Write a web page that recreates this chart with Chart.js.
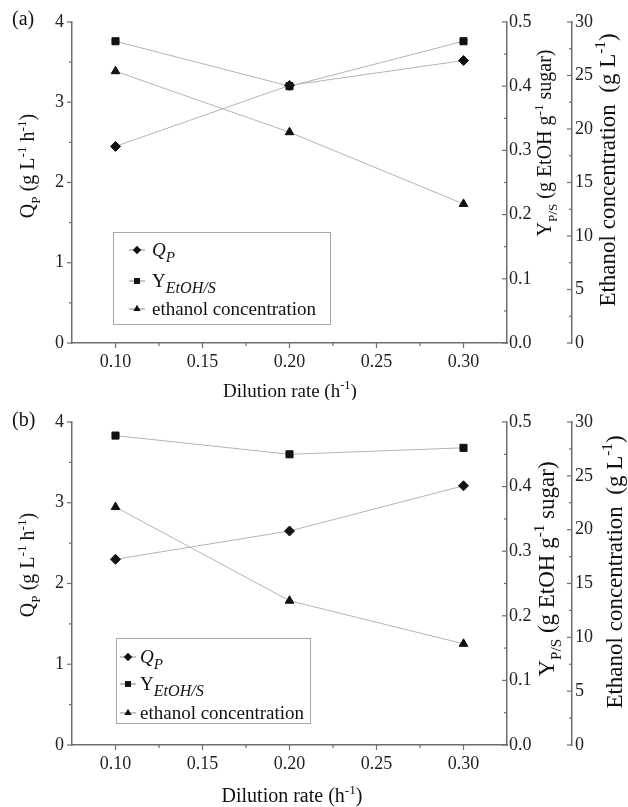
<!DOCTYPE html>
<html>
<head>
<meta charset="utf-8">
<script src="https://cdn.jsdelivr.net/npm/chart.js@4.4.0/dist/chart.umd.min.js"></script>
<style>
body { margin: 0; background: #fff; }
.panel { position: absolute; left: 0; width: 628px; }
</style>
</head>
<body>
<div class="panel" style="top:0;height:400px"><canvas id="chartA"></canvas></div>
<div class="panel" style="top:400px;height:407px"><canvas id="chartB"></canvas></div>
<script>
// values
var dilution = [0.10, 0.20, 0.30];
var qpA = [2.45, 3.21, 3.52];
var yieldA = [0.47, 0.40, 0.47];
var ethanolA = [25.4, 19.7, 13.0];
var qpB = [2.30, 2.65, 3.21];
var yieldB = [0.479, 0.450, 0.460];
var ethanolB = [22.1, 13.4, 9.4];

// tick values
var xTicks = [0.10, 0.15, 0.20, 0.25, 0.30];
var xMinor = [0.125, 0.175, 0.225, 0.275];
var qpTicks = [0, 1, 2, 3, 4];
var qpMinor = [0.5, 1.5, 2.5, 3.5];
var yieldTicks = [0, 0.1, 0.2, 0.3, 0.4, 0.5];
var yieldMinor = [0.05, 0.15, 0.25, 0.35, 0.45];
var ethTicks = [0, 5, 10, 15, 20, 25, 30];
var ethMinor = [2.5, 7.5, 12.5, 17.5, 22.5, 27.5];

// texts (i = italic, sub / sup = small shifted text, sc = size factor)
var seriesNames = [
  [{t: 'Q', i: 1}, {t: 'P', i: 1, sub: 1, sc: 0.8}],
  [{t: 'Y'}, {t: 'EtOH/S', i: 1, sub: 1, sc: 0.85}],
  [{t: 'ethanol concentration'}]
];
var xTitle = [{t: 'Dilution rate (h'}, {t: '-1', sup: 1}, {t: ')'}];
var qpTitle = [{t: 'Q'}, {t: 'P', sub: 1}, {t: ' (g L'}, {t: '-1', sup: 1}, {t: ' h'}, {t: '-1', sup: 1}, {t: ')'}];
var yieldTitle = [{t: 'Y'}, {t: 'P/S', sub: 1}, {t: ' (g EtOH g'}, {t: '-1', sup: 1}, {t: ' sugar)'}];
var ethTitle = [{t: 'Ethanol concentration  (g L'}, {t: '-1', sup: 1}, {t: ')'}];

var FONT = "'Liberation Serif', 'Times New Roman', serif";
var AXIS = '#6e6e6e';
var pointStyles = ['rectRot', 'rect', 'triangle'];

function segFont(s, size) {
  var sz = (s.sub || s.sup) ? size * (s.sc || 0.66) : size;
  return (s.i ? 'italic ' : '') + sz.toFixed(1) + 'px ' + FONT;
}
function richWidth(ctx, segs, size) {
  var w = 0;
  segs.forEach(function (s) { ctx.font = segFont(s, size); w += ctx.measureText(s.t).width; });
  return w;
}
function drawRich(ctx, segs, x, y, size, center) {
  var cx = center ? x - richWidth(ctx, segs, size) / 2 : x;
  ctx.textAlign = 'left';
  ctx.textBaseline = 'alphabetic';
  segs.forEach(function (s) {
    ctx.font = segFont(s, size);
    var dy = s.sub ? size * 0.3 : (s.sup ? -size * 0.42 : 0);
    ctx.fillText(s.t, cx, y + dy);
    cx += ctx.measureText(s.t).width;
  });
}
function drawRotated(ctx, segs, x, y, size) {
  ctx.save();
  ctx.translate(x, y);
  ctx.rotate(-Math.PI / 2);
  drawRich(ctx, segs, 0, 0, size, true);
  ctx.restore();
}
function drawMarker(ctx, style, x, y, r) {
  ctx.beginPath();
  if (style === 'rectRot') {
    ctx.moveTo(x, y - r); ctx.lineTo(x + r, y); ctx.lineTo(x, y + r); ctx.lineTo(x - r, y);
  } else if (style === 'rect') {
    var s = r * Math.SQRT1_2;
    ctx.rect(x - s, y - s, 2 * s, 2 * s);
  } else {
    var h = r * 1.5, half = r * Math.sqrt(3) / 2;
    ctx.moveTo(x - half, y + h / 3); ctx.lineTo(x + half, y + h / 3); ctx.lineTo(x, y - 2 * h / 3);
  }
  ctx.closePath();
  ctx.fill();
}
function tickMarks(ctx, scale, values, len) {
  values.forEach(function (v) {
    var p = scale.getPixelForValue(v);
    ctx.beginPath();
    if (scale.isHorizontal()) { ctx.moveTo(p, scale.top); ctx.lineTo(p, scale.top + len); }
    else if (scale.position === 'left') { ctx.moveTo(scale.right, p); ctx.lineTo(scale.right - len, p); }
    else { ctx.moveTo(scale.left, p); ctx.lineTo(scale.left - len, p); } // right axes tick inward
    ctx.stroke();
  });
}

var decor = {
  id: 'decor',
  afterDraw: function (chart, args, o) {
    var ctx = chart.ctx;
    ctx.save();
    ctx.strokeStyle = AXIS;
    ctx.lineWidth = 1.2;
    var sc = chart.scales;
    tickMarks(ctx, sc.x, xTicks, 5); tickMarks(ctx, sc.x, xMinor, 3);
    tickMarks(ctx, sc.y, qpTicks, 5); tickMarks(ctx, sc.y, qpMinor, 3);
    tickMarks(ctx, sc.y1, yieldTicks, 5); tickMarks(ctx, sc.y1, yieldMinor, 3);
    tickMarks(ctx, sc.y2, ethTicks, 5); tickMarks(ctx, sc.y2, ethMinor, 3);

    ctx.fillStyle = '#111';
    var t = o.titles;
    drawRich(ctx, [{t: o.label}], t.label[0], t.label[1], t.label[2], false);
    drawRich(ctx, xTitle, t.x[0], t.x[1], t.x[2], true);
    drawRotated(ctx, qpTitle, t.qp[0], t.qp[1], t.qp[2]);
    drawRotated(ctx, yieldTitle, t.yld[0], t.yld[1], t.yld[2]);
    drawRotated(ctx, ethTitle, t.eth[0], t.eth[1], t.eth[2]);

    // legend box
    var L = o.legend;
    ctx.strokeStyle = '#a8a8a8';
    ctx.lineWidth = 1;
    ctx.strokeRect(L.x + 0.5, L.y + 0.5, L.w, L.h);
    seriesNames.forEach(function (segs, k) {
      var ry = L.rows[k];
      ctx.strokeStyle = '#8a8a8a';
      ctx.beginPath(); ctx.moveTo(L.markX - L.stub, ry); ctx.lineTo(L.markX + L.stub, ry); ctx.stroke();
      ctx.fillStyle = '#111';
      drawMarker(ctx, pointStyles[k], L.markX, ry, 4.2);
      drawRich(ctx, segs, L.textX, ry + L.size * 0.33, L.size, false);
    });
    ctx.restore();
  }
};

function pts(ys) {
  return dilution.map(function (x, i) { return {x: x, y: ys[i]}; });
}

function series(label, ys, axis, style) {
  return {
    label: label, data: pts(ys), yAxisID: axis,
    borderColor: '#b4b4b4', borderWidth: 1,
    pointStyle: style, pointRadius: 5, pointHoverRadius: 5,
    pointBackgroundColor: '#111', pointBorderColor: '#111', pointBorderWidth: 1
  };
}

function fixTicks(list) {
  return function (s) { s.ticks = list.map(function (v) { return {value: v}; }); };
}

var tickFont = {family: FONT, size: 18};

function axisBase(extra) {
  var a = {
    type: 'linear',
    grid: {drawOnChartArea: false, drawTicks: false, color: AXIS},
    border: {display: true, color: AXIS, width: 1.5},
    ticks: {font: tickFont, color: '#222', padding: 3}
  };
  for (var k in extra) a[k] = extra[k];
  return a;
}

function buildChart(id, qp, yld, eth, cfg) {
  return new Chart(document.getElementById(id), {
    type: 'line',
    data: {
      datasets: [
        series('Qp', qp, 'y', 'rectRot'),
        series('Y EtOH/S', yld, 'y1', 'rect'),
        series('ethanol concentration', eth, 'y2', 'triangle')
      ]
    },
    options: {
      responsive: true,
      maintainAspectRatio: false,
      animation: false,
      events: [],
      layout: {padding: {top: cfg.top, left: 0, right: 0, bottom: 0}},
      plugins: {
        legend: {display: false},
        tooltip: {enabled: false},
        decor: cfg
      },
      scales: {
        x: axisBase({
          position: 'bottom', min: 0.075, max: 0.325,
          afterBuildTicks: fixTicks(xTicks),
          afterFit: function (s) { s.height = cfg.xAxisH; },
          ticks: {font: tickFont, color: '#222', padding: 8, maxRotation: 0,
            callback: function (v) { return v.toFixed(2); }}
        }),
        y: axisBase({
          position: 'left', min: 0, max: 4,
          afterBuildTicks: fixTicks(qpTicks),
          afterFit: function (s) { s.width = 72; },
          ticks: {font: tickFont, color: '#222', padding: 8}
        }),
        y1: axisBase({
          position: 'right', min: 0, max: 0.5, weight: 0,
          afterBuildTicks: fixTicks(yieldTicks),
          afterFit: function (s) { s.width = 65; },
          ticks: {font: tickFont, color: '#222', padding: 2,
            callback: function (v) { return v.toFixed(1); }}
        }),
        y2: axisBase({
          position: 'right', min: 0, max: 30, weight: 1,
          afterBuildTicks: fixTicks(ethTicks),
          afterFit: function (s) { s.width = 56; },
          ticks: {font: tickFont, color: '#222', padding: 3}
        })
      }
    },
    plugins: [decor]
  });
}

buildChart('chartA', qpA, yieldA, ethanolA, {
  label: '(a)', top: 22, xAxisH: 57,
  titles: {label: [12, 25, 20], x: [290, 397, 19], qp: [34, 166, 20], yld: [551, 143, 20], eth: [615, 170, 23]},
  legend: {x: 113, y: 232, w: 217, h: 92, rows: [250, 281, 309], markX: 137, stub: 8, textX: 152, size: 19}
});

buildChart('chartB', qpB, yieldB, ethanolB, {
  label: '(b)', top: 22, xAxisH: 62,
  titles: {label: [12, 26, 20], x: [292, 402, 20], qp: [34, 165, 20], yld: [554, 169, 23], eth: [622, 172, 23]},
  legend: {x: 116, y: 238, w: 194, h: 85, rows: [257, 284, 313], markX: 128, stub: 8, textX: 140, size: 19}
});
</script>
</body>
</html>
